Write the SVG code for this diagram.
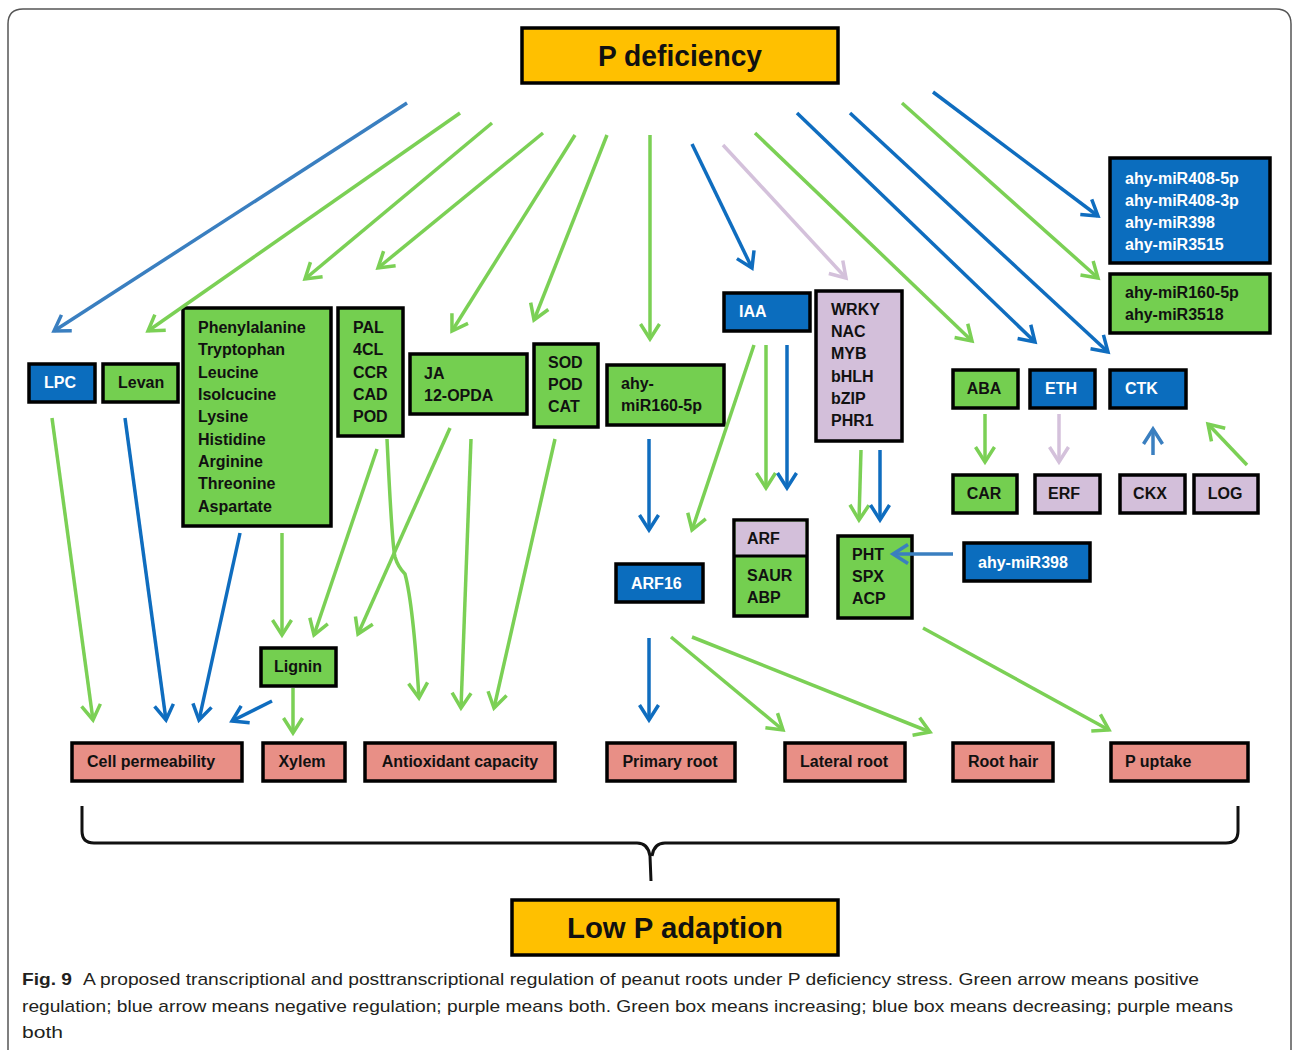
<svg xmlns="http://www.w3.org/2000/svg" width="1292" height="1050" viewBox="0 0 1292 1050">
<style>
.bx{stroke:#000;stroke-width:3.5}
.gn{fill:#74CF50}
.bl{fill:#0B6DBE}
.pu{fill:#D3BFDA}
.sa{fill:#E88F86}
.gd{fill:#FFC000}
.t{font-family:"Liberation Sans",Arial,sans-serif;font-weight:bold;font-size:16px;fill:#111}
.big{font-family:"Liberation Sans",Arial,sans-serif;font-weight:bold;font-size:29px;fill:#111;text-anchor:middle}
.w{fill:#fff}
.c{text-anchor:middle}
.cap{font-family:"Liberation Sans",Arial,sans-serif;font-size:17px;fill:#231F20}
.ln{fill:none;stroke-width:3.5}
.g{stroke:#7BD055}
.b{stroke:#0F6DBF}
.lb{stroke:#3A7FC0}
.p{stroke:#D4C1DB}
</style>
<defs>
<marker id="mg" markerUnits="userSpaceOnUse" viewBox="-18 -12 22 24" refX="0" refY="0" markerWidth="22" markerHeight="24" orient="auto" overflow="visible"><path d="M-15,-9.5 L0,0 L-15,9.5" fill="none" stroke="#7BD055" stroke-width="3.5"/></marker>
<marker id="mb" markerUnits="userSpaceOnUse" viewBox="-18 -12 22 24" refX="0" refY="0" markerWidth="22" markerHeight="24" orient="auto" overflow="visible"><path d="M-15,-9.5 L0,0 L-15,9.5" fill="none" stroke="#0F6DBF" stroke-width="3.5"/></marker>
<marker id="mlb" markerUnits="userSpaceOnUse" viewBox="-18 -12 22 24" refX="0" refY="0" markerWidth="22" markerHeight="24" orient="auto" overflow="visible"><path d="M-15,-9.5 L0,0 L-15,9.5" fill="none" stroke="#3A7FC0" stroke-width="3.5"/></marker>
<marker id="mp" markerUnits="userSpaceOnUse" viewBox="-18 -12 22 24" refX="0" refY="0" markerWidth="22" markerHeight="24" orient="auto" overflow="visible"><path d="M-15,-9.5 L0,0 L-15,9.5" fill="none" stroke="#D4C1DB" stroke-width="3.5"/></marker>
</defs>
<rect width="1292" height="1050" fill="#fff"/>
<path d="M8,1050 L8,24 Q8,9 23,9 L1276,9 Q1291,9 1291,24 L1291,1050" fill="none" stroke="#555" stroke-width="1.5"/>

<g id="p-deficiency"><rect class="bx gd" x="522" y="28" width="316" height="55"/><text class="big" x="680" y="66" textLength="164" lengthAdjust="spacingAndGlyphs">P deficiency</text></g>
<g id="low-p"><rect class="bx gd" x="512" y="900" width="326" height="55"/><text class="big" x="675" y="938" textLength="216" lengthAdjust="spacingAndGlyphs">Low P adaption</text></g>

<g id="lpc"><rect class="bx bl" x="29" y="364" width="66" height="38"/><text class="t w" x="44" y="388">LPC</text></g>
<g id="levan"><rect class="bx gn" x="103" y="364" width="75" height="38"/><text class="t" x="118" y="388">Levan</text></g>
<g id="amino"><rect class="bx gn" x="183" y="308" width="148" height="218"/>
<text class="t" x="198" y="333">Phenylalanine</text><text class="t" x="198" y="355.3">Tryptophan</text><text class="t" x="198" y="377.6">Leucine</text><text class="t" x="198" y="400">Isolcucine</text><text class="t" x="198" y="422.3">Lysine</text><text class="t" x="198" y="444.6">Histidine</text><text class="t" x="198" y="467">Arginine</text><text class="t" x="198" y="489.3">Threonine</text><text class="t" x="198" y="511.6">Aspartate</text></g>
<g id="pal"><rect class="bx gn" x="338" y="308" width="65" height="128"/>
<text class="t" x="353" y="333">PAL</text><text class="t" x="353" y="355.3">4CL</text><text class="t" x="353" y="377.6">CCR</text><text class="t" x="353" y="400">CAD</text><text class="t" x="353" y="422.3">POD</text></g>
<g id="ja"><rect class="bx gn" x="410" y="354" width="117" height="60"/><text class="t" x="424" y="379">JA</text><text class="t" x="424" y="401">12-OPDA</text></g>
<g id="sod"><rect class="bx gn" x="534" y="344" width="64" height="83"/><text class="t" x="548" y="368">SOD</text><text class="t" x="548" y="390">POD</text><text class="t" x="548" y="412">CAT</text></g>
<g id="mir160a"><rect class="bx gn" x="607" y="365" width="117" height="60"/><text class="t" x="621" y="389">ahy-</text><text class="t" x="621" y="411">miR160-5p</text></g>
<g id="iaa"><rect class="bx bl" x="724" y="293" width="86" height="38"/><text class="t w" x="739" y="317">IAA</text></g>
<g id="wrky"><rect class="bx pu" x="816" y="291" width="86" height="150"/>
<text class="t" x="831" y="315">WRKY</text><text class="t" x="831" y="337">NAC</text><text class="t" x="831" y="359">MYB</text><text class="t" x="831" y="382">bHLH</text><text class="t" x="831" y="404">bZIP</text><text class="t" x="831" y="426">PHR1</text></g>
<g id="mir408"><rect class="bx bl" x="1110" y="158" width="160" height="105"/>
<text class="t w" x="1125" y="184">ahy-miR408-5p</text><text class="t w" x="1125" y="206">ahy-miR408-3p</text><text class="t w" x="1125" y="228">ahy-miR398</text><text class="t w" x="1125" y="250">ahy-miR3515</text></g>
<g id="mir160b"><rect class="bx gn" x="1110" y="274" width="160" height="59"/><text class="t" x="1125" y="298">ahy-miR160-5p</text><text class="t" x="1125" y="320">ahy-miR3518</text></g>
<g id="aba"><rect class="bx gn" x="953" y="370" width="65" height="38"/><text class="t c" x="984" y="394">ABA</text></g>
<g id="eth"><rect class="bx bl" x="1030" y="370" width="65" height="38"/><text class="t w c" x="1061" y="394">ETH</text></g>
<g id="ctk"><rect class="bx bl" x="1110" y="370" width="76" height="38"/><text class="t w" x="1125" y="394">CTK</text></g>
<g id="car"><rect class="bx gn" x="953" y="475" width="64" height="38"/><text class="t c" x="984" y="499">CAR</text></g>
<g id="erf"><rect class="bx pu" x="1035" y="475" width="65" height="38"/><text class="t c" x="1064" y="499">ERF</text></g>
<g id="ckx"><rect class="bx pu" x="1120" y="475" width="65" height="38"/><text class="t c" x="1150" y="499">CKX</text></g>
<g id="log"><rect class="bx pu" x="1194" y="475" width="64" height="38"/><text class="t c" x="1225" y="499">LOG</text></g>
<g id="arf16"><rect class="bx bl" x="616" y="564" width="87" height="38"/><text class="t w" x="631" y="589">ARF16</text></g>
<g id="arf"><rect class="bx gn" x="734" y="520" width="73" height="96"/><rect class="pu" x="735.75" y="521.75" width="69.5" height="34"/><line x1="734" y1="556" x2="807" y2="556" stroke="#000" stroke-width="3"/>
<text class="t" x="747" y="544">ARF</text><text class="t" x="747" y="581">SAUR</text><text class="t" x="747" y="603">ABP</text></g>
<g id="pht"><rect class="bx gn" x="838" y="536" width="74" height="82"/><text class="t" x="852" y="560">PHT</text><text class="t" x="852" y="582">SPX</text><text class="t" x="852" y="604">ACP</text></g>
<g id="mir398"><rect class="bx bl" x="964" y="543" width="126" height="38"/><text class="t w" x="978" y="568">ahy-miR398</text></g>
<g id="lignin"><rect class="bx gn" x="261" y="648" width="75" height="38"/><text class="t c" x="298" y="672">Lignin</text></g>

<g id="cellperm"><rect class="bx sa" x="72" y="743" width="170" height="38"/><text class="t" x="87" y="767">Cell permeability</text></g>
<g id="xylem"><rect class="bx sa" x="263" y="743" width="82" height="38"/><text class="t c" x="302" y="767">Xylem</text></g>
<g id="antiox"><rect class="bx sa" x="365" y="743" width="190" height="38"/><text class="t c" x="460" y="767">Antioxidant capacity</text></g>
<g id="primary"><rect class="bx sa" x="607" y="743" width="128" height="38"/><text class="t c" x="670" y="767">Primary root</text></g>
<g id="lateral"><rect class="bx sa" x="785" y="743" width="120" height="38"/><text class="t c" x="844" y="767">Lateral root</text></g>
<g id="roothair"><rect class="bx sa" x="953" y="743" width="100" height="38"/><text class="t c" x="1003" y="767">Root hair</text></g>
<g id="puptake"><rect class="bx sa" x="1111" y="743" width="137" height="38"/><text class="t" x="1125" y="767">P uptake</text></g>

<g id="connectors">
<line class="ln lb" x1="407" y1="103" x2="54" y2="331" marker-end="url(#mlb)"/>
<line class="ln g" x1="460" y1="113" x2="148" y2="331" marker-end="url(#mg)"/>
<line class="ln g" x1="492" y1="123" x2="305" y2="279" marker-end="url(#mg)"/>
<line class="ln g" x1="543" y1="133" x2="378" y2="268" marker-end="url(#mg)"/>
<line class="ln g" x1="575" y1="135" x2="452" y2="331" marker-end="url(#mg)"/>
<line class="ln g" x1="607" y1="135" x2="534" y2="320" marker-end="url(#mg)"/>
<line class="ln g" x1="650" y1="135" x2="650" y2="339" marker-end="url(#mg)"/>
<line class="ln b" x1="692" y1="144" x2="752" y2="268" marker-end="url(#mb)"/>
<line class="ln p" x1="723" y1="145" x2="846" y2="278" marker-end="url(#mp)"/>
<line class="ln g" x1="755" y1="133" x2="972" y2="341" marker-end="url(#mg)"/>
<line class="ln b" x1="797" y1="113" x2="1035" y2="342" marker-end="url(#mb)"/>
<line class="ln b" x1="850" y1="113" x2="1108" y2="352" marker-end="url(#mb)"/>
<line class="ln g" x1="902" y1="103" x2="1098" y2="278" marker-end="url(#mg)"/>
<line class="ln b" x1="933" y1="92" x2="1098" y2="216" marker-end="url(#mb)"/>

<line class="ln g" x1="52" y1="418" x2="93" y2="720" marker-end="url(#mg)"/>
<line class="ln b" x1="125" y1="418" x2="166" y2="720" marker-end="url(#mb)"/>
<line class="ln b" x1="240" y1="533" x2="199" y2="720" marker-end="url(#mb)"/>
<line class="ln b" x1="272" y1="701" x2="232" y2="721" marker-end="url(#mb)"/>
<line class="ln g" x1="293" y1="688" x2="293" y2="733" marker-end="url(#mg)"/>
<line class="ln g" x1="282" y1="533" x2="282" y2="635" marker-end="url(#mg)"/>
<line class="ln g" x1="377" y1="449" x2="314" y2="635" marker-end="url(#mg)"/>
<line class="ln g" x1="450" y1="428" x2="358" y2="634" marker-end="url(#mg)"/>
<path class="ln g" d="M387,439 C390,500 392,545 395,557 Q398,567 405,574 C412,600 416,650 419,698" marker-end="url(#mg)"/>
<line class="ln g" x1="471" y1="439" x2="461" y2="708" marker-end="url(#mg)"/>
<line class="ln g" x1="555" y1="439" x2="494" y2="708" marker-end="url(#mg)"/>

<line class="ln b" x1="649" y1="439" x2="649" y2="530" marker-end="url(#mb)"/>
<line class="ln g" x1="754" y1="345" x2="692" y2="530" marker-end="url(#mg)"/>
<line class="ln g" x1="766" y1="345" x2="766" y2="488" marker-end="url(#mg)"/>
<line class="ln b" x1="787" y1="345" x2="787" y2="488" marker-end="url(#mb)"/>
<line class="ln g" x1="861" y1="450" x2="859" y2="520" marker-end="url(#mg)"/>
<line class="ln b" x1="880" y1="450" x2="880" y2="520" marker-end="url(#mb)"/>
<line class="ln lb" x1="953" y1="554" x2="893" y2="554" marker-end="url(#mlb)"/>
<line class="ln g" x1="985" y1="414" x2="985" y2="462" marker-end="url(#mg)"/>
<line class="ln p" x1="1059" y1="414" x2="1059" y2="462" marker-end="url(#mp)"/>
<line class="ln lb" x1="1153" y1="455" x2="1153" y2="429" marker-end="url(#mlb)"/>
<line class="ln g" x1="1247" y1="465" x2="1208" y2="424" marker-end="url(#mg)"/>

<line class="ln b" x1="649" y1="638" x2="649" y2="720" marker-end="url(#mb)"/>
<line class="ln g" x1="671" y1="637" x2="783" y2="730" marker-end="url(#mg)"/>
<line class="ln g" x1="692" y1="637" x2="930" y2="732" marker-end="url(#mg)"/>
<line class="ln g" x1="923" y1="628" x2="1109" y2="730" marker-end="url(#mg)"/>

<path d="M82,806 L82,831 Q82,843 94,843 L637,843 Q648,843 650,856 L651,881 M1238,806 L1238,831 Q1238,843 1226,843 L665,843 Q654,843 652,856" fill="none" stroke="#111" stroke-width="3"/>
</g>

<g id="caption">
<text class="cap" x="22" y="985" font-weight="bold" textLength="50" lengthAdjust="spacingAndGlyphs">Fig. 9</text>
<text class="cap" x="83" y="985" textLength="1116" lengthAdjust="spacingAndGlyphs">A proposed transcriptional and posttranscriptional regulation of peanut roots under P deficiency stress. Green arrow means positive</text>
<text class="cap" x="22" y="1012" textLength="1211" lengthAdjust="spacingAndGlyphs">regulation; blue arrow means negative regulation; purple means both. Green box means increasing; blue box means decreasing; purple means</text>
<text class="cap" x="22" y="1038" textLength="41" lengthAdjust="spacingAndGlyphs">both</text>
</g>
</svg>
